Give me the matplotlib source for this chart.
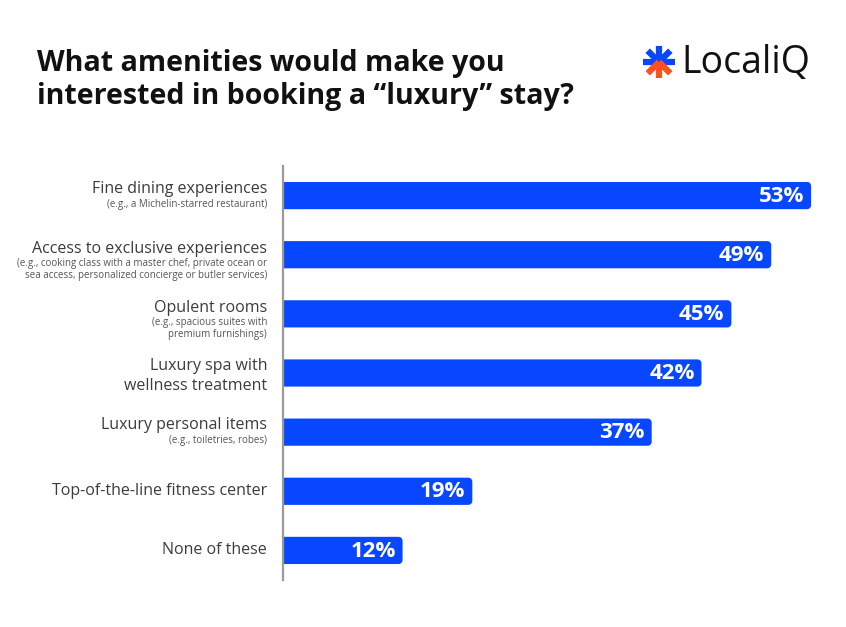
import numpy as np
import matplotlib
matplotlib.use("Agg")
import matplotlib.pyplot as plt
from matplotlib.patches import Polygon

# chart data
main_labels = ["Fine dining experiences",
               "Access to exclusive experiences",
               "Opulent rooms",
               "Luxury spa with\nwellness treatment",
               "Luxury personal items",
               "Top-of-the-line fitness center",
               "None of these"]
sub_labels = ["(e.g., a Michelin-starred restaurant)",
              "(e.g., cooking class with a master chef, private ocean or\nsea access, personalized concierge or butler services)",
              "(e.g., spacious suites with\npremium furnishings)",
              "",
              "(e.g., toiletries, robes)",
              "",
              ""]
values = [53, 49, 45, 42, 37, 19, 12]

title = "What amenities would make you\ninterested in booking a \u201cluxury\u201d stay?"
blue = "#0747FF"
orange = "#FF5022"

plt.rcParams['font.family'] = ['Open Sans', 'DejaVu Sans']


def rounded_bar(ax, y, v, h, rx, ry, color):
    # bar with square left end and rounded right corners
    t = np.linspace(0, np.pi/2, 12)
    y0, y1 = y - h/2, y + h/2
    pts = [(0, y0)]
    pts += [(v - rx + rx*np.sin(a), y0 + ry - ry*np.cos(a)) for a in t]
    pts += [(v - rx + rx*np.cos(a), y1 - ry + ry*np.sin(a)) for a in t]
    pts += [(0, y1)]
    ax.add_patch(Polygon(pts, closed=True, facecolor=color, edgecolor="none"))


fig = plt.figure(figsize=(8.46, 6.27), dpi=100)
# axes placed in pixels: left 283, bottom 47, width 558, height 414
ax = fig.add_axes([283/846, 47/627, 558/846, 414/627])
ax.set_xlim(0, 56)
ax.set_ylim(6.5, -0.5)

bar_h = 0.46
for i, v in enumerate(values):
    rounded_bar(ax, i, v, bar_h, 0.4, 0.068, blue)
    ax.annotate("%d%%" % v, (v, i), xytext=(-5, -0.5), textcoords="offset points",
                ha="right", va="center", color="white", fontsize=16,
                fontweight="bold")

# category labels, left of the axis
px = 0.72  # points per pixel
for i, (m, s) in enumerate(zip(main_labels, sub_labels)):
    if s == "":
        dn = -3 if "\n" in m else 0
        ax.annotate(m, (0, i), xytext=(-16*px, dn*px), textcoords="offset points",
                    ha="right", va="center", fontsize=11.5, color="#3c3c3c",
                    linespacing=1.3)
    else:
        nsub = s.count("\n") + 1
        up = 7 if nsub == 1 else 6
        ax.annotate(m, (0, i), xytext=(-16*px, up*px), textcoords="offset points",
                    ha="right", va="center", fontsize=11.5, color="#3c3c3c")
        ax.annotate(s, (0, i), xytext=(-16*px, -3*px), textcoords="offset points",
                    ha="right", va="top", fontsize=7, color="#555555",
                    linespacing=1.15)

for sp in ["top", "right", "bottom"]:
    ax.spines[sp].set_visible(False)
ax.spines["left"].set_color("#9a9a9a")
ax.spines["left"].set_linewidth(1.6)
ax.set_xticks([])
ax.set_yticks([])

fig.text(37/846, 1 - 49/627, title, ha="left", va="top", fontsize=20.6,
         fontweight="bold", color="#111111", linespacing=1.2)

# logo
fig.text(681/846, 1 - 63/627, "LocaliQ", ha="left", va="center", fontsize=27,
         color="#111111")
cx, cy = 659/846, 1 - 62/627
L = 16
for ang, col in [(90, blue), (45, blue), (135, blue), (0, blue), (180, blue),
                 (-45, orange), (-135, orange), (-90, orange)]:
    dx = L*np.cos(np.radians(ang))/846
    dy = L*np.sin(np.radians(ang))/627
    fig.add_artist(plt.Line2D([cx, cx + dx], [cy, cy + dy], color=col, lw=4.5,
                              solid_capstyle="butt", transform=fig.transFigure,
                              zorder=3 if col == blue else 4))

fig.savefig("out.png", dpi=100, facecolor="white")
